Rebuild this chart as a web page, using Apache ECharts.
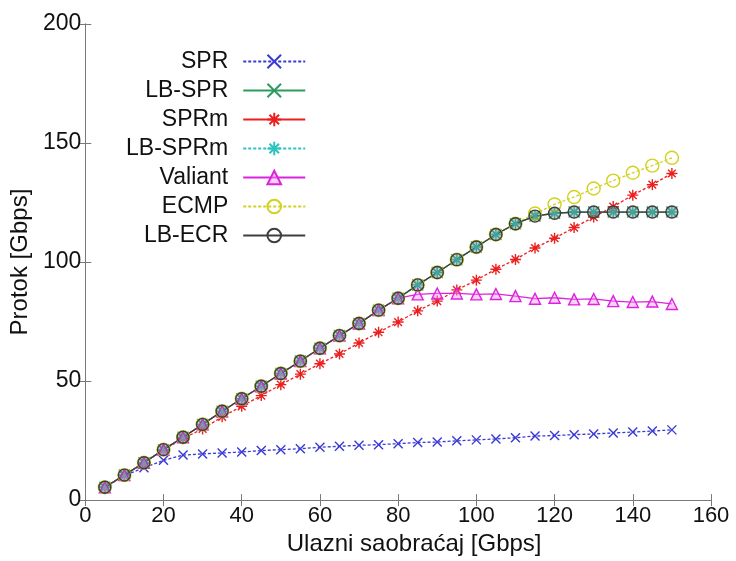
<!DOCTYPE html>
<html>
<head>
<meta charset="utf-8">
<script src="https://cdn.jsdelivr.net/npm/echarts@6/dist/echarts.min.js"></script>
<style>
  html, body { margin: 0; padding: 0; background: #fff; }
  #chart { width: 736px; height: 561px; }
</style>
</head>
<body>
<div id="chart"></div>
<script>
// input traffic (Gbps)
const xs = [5, 10, 15, 20, 25, 30, 35, 40, 45, 50, 55, 60, 65, 70, 75,
            80, 85, 90, 95, 100, 105, 110, 115, 120, 125, 130, 135, 140, 145, 150];

// throughput (Gbps)
const spr = [5.3, 10.3, 13.6, 16.7, 18.9, 19.4, 19.8, 20.2, 20.8, 21.2, 21.6, 22.2, 22.6, 23.0, 23.3,
             23.7, 24.2, 24.4, 24.9, 25.3, 25.7, 26.2, 26.9, 27.1, 27.5, 27.8, 28.2, 28.6, 29.0, 29.5];
const lbSpr = [5.4, 10.5, 15.7, 21.2, 26.4, 31.8, 37.3, 42.6, 47.8, 53.2, 58.4, 63.8, 69.1, 74.2, 79.8,
               84.8, 90.4, 95.6, 101.0, 106.3, 111.6, 116.1, 119.3, 120.5, 121.0, 121.0, 121.0, 121.0, 121.0, 121.0];
const sprm = [5.4, 10.5, 15.7, 21.0, 25.9, 29.9, 35.0, 39.4, 43.9, 48.5, 52.9, 57.3, 61.4, 66.0, 70.5,
              74.8, 79.5, 83.6, 88.3, 92.4, 97.0, 101.1, 105.9, 110.0, 114.5, 118.9, 123.3, 128.1, 132.5, 137.2];
const lbSprm = [5.4, 10.5, 15.7, 21.2, 26.4, 31.8, 37.3, 42.6, 47.8, 53.2, 58.4, 63.8, 69.1, 74.2, 79.8,
                84.8, 90.4, 95.6, 101.0, 106.3, 111.6, 116.1, 119.3, 120.5, 121.0, 121.0, 121.0, 121.0, 121.0, 121.0];
const valiant = [5.4, 10.5, 15.7, 21.2, 26.4, 31.8, 37.3, 42.6, 47.8, 53.2, 58.4, 63.8, 69.1, 74.2, 79.8,
                 84.8, 86.4, 86.8, 86.8, 86.4, 86.6, 85.7, 84.6, 85.0, 84.3, 84.5, 83.6, 83.2, 83.4, 82.4];
const ecmp = [5.4, 10.5, 15.7, 21.2, 26.4, 31.8, 37.3, 42.6, 47.8, 53.2, 58.4, 63.8, 69.1, 74.2, 79.8,
              84.8, 90.4, 95.6, 101.0, 106.3, 111.6, 116.1, 120.4, 124.2, 127.3, 130.9, 134.2, 137.5, 140.5, 143.8];
const lbEcr = [5.4, 10.5, 15.7, 21.2, 26.4, 31.8, 37.3, 42.6, 47.8, 53.2, 58.4, 63.8, 69.1, 74.2, 79.8,
               84.8, 90.4, 95.6, 101.0, 106.3, 111.6, 116.1, 119.3, 120.5, 121.0, 121.0, 121.0, 121.0, 121.0, 121.0];

const xTicks = { min: 0, max: 160, interval: 20 };
const yTicks = { min: 0, max: 200, interval: 50 };

const CROSS = 'path://M0,0L10,10M10,0L0,10';
const STAR = 'path://M5,0L5,10M0,5L10,5M1.5,1.5L8.5,8.5M8.5,1.5L1.5,8.5';
const FONT = 'Liberation Sans';

function pairs(vals) {
  return xs.map((x, i) => [x, vals[i]]);
}

function mk(name, vals, color, dash, symbol, size, fill) {
  return {
    name: name,
    type: 'line',
    data: pairs(vals),
    symbol: symbol,
    symbolSize: size,
    showAllSymbol: true,
    lineStyle: { color: color, width: 1.3, type: dash ? [3, 2] : 'solid' },
    itemStyle: { color: fill, borderColor: color, borderWidth: 1.4 },
    emphasis: { disabled: true },
    animation: false
  };
}

const myChart = echarts.init(document.getElementById('chart'));

const axisLine = { show: true, lineStyle: { color: '#7a7a7a', width: 1 } };
const axisTick = { show: true, inside: true, length: 6, lineStyle: { color: '#7a7a7a' } };

const option = {
  backgroundColor: '#fff',
  grid: { left: 83, right: 25, top: 24, bottom: 53 },
  legend: {
    orient: 'vertical',
    left: 121,
    top: 45,
    align: 'right',
    itemWidth: 62,
    itemHeight: 17,
    itemGap: 6,
    textStyle: { fontFamily: FONT, fontSize: 23, lineHeight: 23, color: '#111', padding: [0, 10, 0, 0] },
    data: [
      { name: 'SPR' },
      { name: 'LB-SPR' },
      { name: 'SPRm', lineStyle: { type: 'solid' } },
      { name: 'LB-SPRm' },
      { name: 'Valiant' },
      { name: 'ECMP' },
      { name: 'LB-ECR', itemStyle: { color: 'rgba(255,255,255,0)' } }
    ]
  },
  xAxis: [
    {
      type: 'value', min: xTicks.min, max: xTicks.max, interval: xTicks.interval,
      name: 'Ulazni saobraćaj [Gbps]', nameLocation: 'middle', nameGap: 21,
      nameTextStyle: { fontFamily: FONT, fontSize: 24, color: '#111', padding: [0, 0, 0, 32] },
      axisLine: axisLine, axisTick: axisTick, splitLine: { show: false },
      axisLabel: { fontFamily: FONT, fontSize: 22, color: '#111', margin: 5 }
    },
    {
      type: 'value', position: 'top', min: xTicks.min, max: xTicks.max, interval: xTicks.interval,
      axisLine: axisLine, axisTick: axisTick, splitLine: { show: false }, axisLabel: { show: false }
    }
  ],
  yAxis: [
    {
      type: 'value', min: yTicks.min, max: yTicks.max, interval: yTicks.interval,
      name: 'Protok [Gbps]', nameLocation: 'middle', nameGap: 44,
      nameTextStyle: { fontFamily: FONT, fontSize: 24, color: '#111' },
      axisLine: axisLine, axisTick: axisTick, splitLine: { show: false },
      axisLabel: { fontFamily: FONT, fontSize: 23, color: '#111', margin: 4 }
    },
    {
      type: 'value', position: 'right', min: yTicks.min, max: yTicks.max, interval: yTicks.interval,
      axisLine: axisLine, axisTick: axisTick, splitLine: { show: false }, axisLabel: { show: false }
    }
  ],
  series: [
    mk('SPR', spr, '#3a3ad6', true, CROSS, 9, 'none'),
    mk('LB-SPR', lbSpr, '#2f9a60', false, CROSS, 11, 'none'),
    mk('SPRm', sprm, '#ec1f1f', true, STAR, 11, 'none'),
    mk('LB-SPRm', lbSprm, '#2cc4bc', true, STAR, 11, 'none'),
    mk('Valiant', valiant, '#dd22dd', false, 'triangle', 11, 'rgba(240,150,240,0.45)'),
    mk('ECMP', ecmp, '#d2d21e', true, 'circle', 13, 'rgba(255,255,255,0)'),
    mk('LB-ECR', lbEcr, '#3e3e3e', false, 'circle', 12, 'rgba(100,110,100,0.35)')
  ]
};

myChart.setOption(option);
</script>
</body>
</html>
